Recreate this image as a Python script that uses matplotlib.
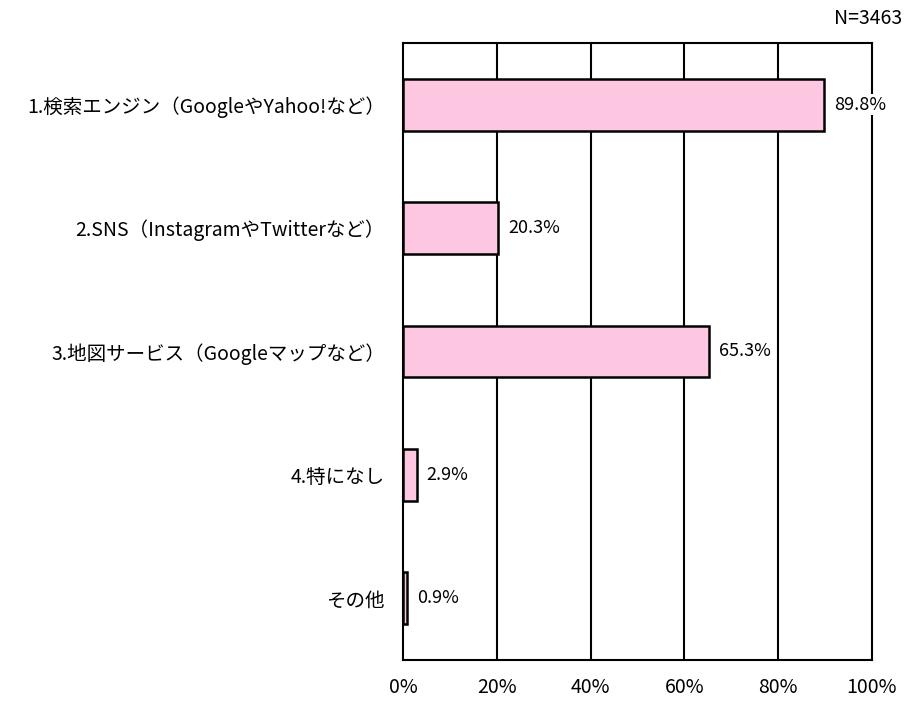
import matplotlib
matplotlib.use("Agg")
import matplotlib.pyplot as plt

plt.rcParams['font.family'] = ['Noto Sans CJK JP', 'DejaVu Sans']

categories = ["1.検索エンジン（GoogleやYahoo!など）",
              "2.SNS（InstagramやTwitterなど）",
              "3.地図サービス（Googleマップなど）",
              "4.特になし",
              "その他"]
values = [89.8, 20.3, 65.3, 2.9, 0.9]
xticks = [0, 20, 40, 60, 80, 100]
xticklabels = ["0%", "20%", "40%", "60%", "80%", "100%"]

fig = plt.figure(figsize=(9.09, 7.04), dpi=100)
ax = fig.add_axes([403/909, 1-660/704, (872-403)/909, (660-43)/704])

y = list(range(len(categories)))
ax.barh(y, values, height=0.42, color="#FDC6E1", edgecolor="black", linewidth=1.8, zorder=3)
for yi, v in zip(y, values):
    ax.annotate(f"{v:.1f}%", (v, yi), xytext=(7, 0), textcoords="offset points",
                va="center", ha="left", fontsize=13, zorder=5,
                bbox=dict(facecolor="white", edgecolor="none", pad=1))

ax.set_xlim(0, 100)
ax.set_ylim(len(categories)-0.5, -0.5)
ax.set_yticks(y)
ax.set_yticklabels(categories, fontsize=14)
ax.set_xticks(xticks)
ax.set_xticklabels(xticklabels, fontsize=14)
ax.tick_params(axis='both', length=0)
ax.tick_params(axis='y', pad=13)
ax.tick_params(axis='x', pad=12)
for xv in xticks[1:-1]:
    ax.axvline(xv, color="black", linewidth=1.5, zorder=1)
for s in ax.spines.values():
    s.set_color("black")
    s.set_linewidth(1.5)
    s.set_zorder(2)

fig.text(902/909, 1-18/704, "N=3463", ha="right", va="center", fontsize=14)

fig.savefig("out.png", dpi=100)
